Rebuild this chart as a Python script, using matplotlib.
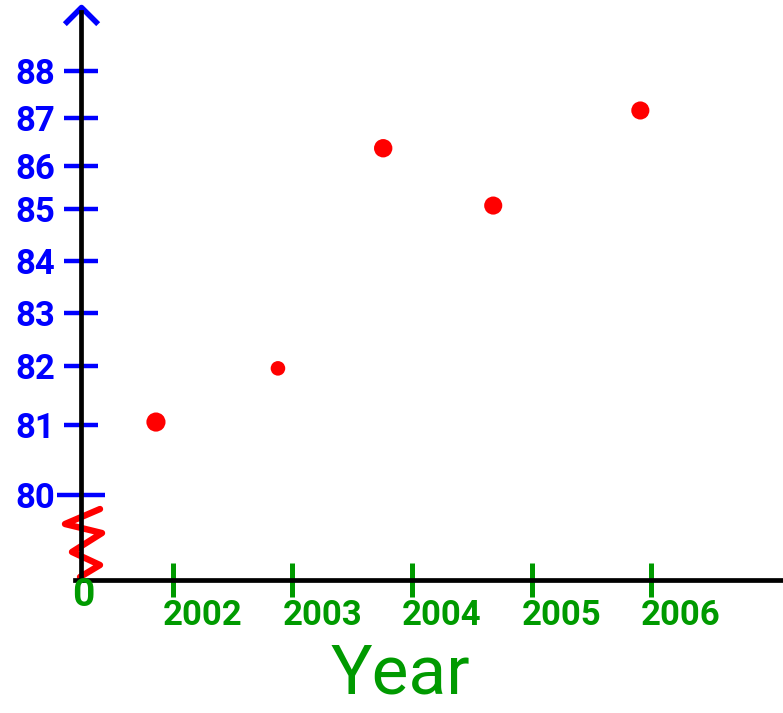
import numpy as np
import matplotlib.pyplot as plt
import matplotlib.transforms as mtransforms

# ---- values ----
years = [2002, 2003, 2004, 2005, 2006]
year_labels = ["2002", "2003", "2004", "2005", "2006"]
y_ticks = [80, 81, 82, 83, 84, 85, 86, 87, 88]
y_labels = ["80", "81", "82", "83", "84", "85", "86", "87", "88"]

# the dots sit a little left of the year ticks in the drawing
point_x = [2001.86, 2002.88, 2003.76, 2004.68, 2005.91]
point_y = [81.05, 81.96, 86.37, 85.08, 87.16]

BLUE = "#0000ff"
GREEN = "#009a00"
RED = "#ff0000"

W, H, DPI = 783, 713, 100

plt.rcParams["font.family"] = ["Roboto", "DejaVu Sans"]
plt.rcParams["font.weight"] = "bold"

# hand drawn y axis: uneven tick spacing plus a break between 0 and 80,
# so map value -> pixel height piecewise (pixel rows measured on the sketch)
scale_vals = [-30, 0, 80, 81, 82, 83, 84, 85, 86, 87, 88, 95]
scale_rows = [730, 580, 495, 425, 366, 313, 261, 209, 166, 118, 71, -258]
scale_h = [H - r for r in scale_rows]


def forward(v):
    return np.interp(v, scale_vals, scale_h)


def inverse(h):
    return np.interp(h, scale_h, scale_vals)


# x axis: roughly 119.6 px per year, 2002 tick at column 172.7
px_per_year = 119.6
x2002_px = 172.7
x_left = 2002 - x2002_px / px_per_year
x_right = 2002 + (W - x2002_px) / px_per_year
x_axis = 2002 - (x2002_px - 80.7) / px_per_year

fig = plt.figure(figsize=(W / DPI, H / DPI), dpi=DPI)
ax = fig.add_axes([0, 0, 1, 1])
ax.set_yscale("function", functions=(forward, inverse))
ax.set_xlim(x_left, x_right)
ax.set_ylim(inverse(0), inverse(H))

# axes lines
for side in ["top", "right"]:
    ax.spines[side].set_visible(False)
ax.spines["left"].set_position(("data", x_axis))
ax.spines["left"].set_bounds(0, 89.25)
ax.spines["bottom"].set_position(("data", 0))
ax.spines["bottom"].set_bounds(x_axis - 0.05, x_right)
for side in ["left", "bottom"]:
    ax.spines[side].set_linewidth(3.4)
    ax.spines[side].set_color("black")

# arrow head on the y axis (open chevron)
ax.plot([x_axis], [89.36], marker=[(-1, -1), (0, 0), (1, -1)], ms=24,
        mfc="none", mec=BLUE, mew=4, clip_on=False)

# ticks
ax.set_yticks(y_ticks, y_labels)
ax.set_xticks(years, year_labels)
ax.tick_params(axis="y", direction="inout", length=25, width=3.2,
               color=BLUE, labelcolor=BLUE, labelsize=25, pad=6)
ax.tick_params(axis="x", direction="inout", length=25, width=3.6,
               color=GREEN, labelcolor=GREEN, labelsize=25, pad=1)
ax.yaxis.get_major_ticks()[0].tick1line.set_markersize(34)

# year labels are written to the right of their ticks
offset = mtransforms.ScaledTranslation(30 / DPI, 0, fig.dpi_scale_trans)
for lab in ax.get_xticklabels():
    lab.set_transform(lab.get_transform() + offset)

# axis break squiggle between 0 and 80
zig_dx_px = [19.3, -15.7, 21.3, -8.7, 19.3, -0.7]
zig_v = [66.8, 52.7, 44.2, 26.4, 14.1, 2.8]
zig_x = []
for d in zig_dx_px:
    zig_x.append(x_axis + d / px_per_year)
ax.plot(zig_x, zig_v, color=RED, lw=4.6,
        solid_capstyle="round", solid_joinstyle="round")

ax.annotate("0", xy=(x_axis, 0), xytext=(3, -16), textcoords="offset pixels",
            ha="center", va="center", color=GREEN, fontsize=28)

# data points
dot_sizes = [190, 110, 175, 170, 170]
ax.scatter(point_x, point_y, s=dot_sizes, color=RED, zorder=3,
           edgecolors="none")

ax.set_xlabel("Year", fontsize=50, color=GREEN, fontweight="normal")
ax.xaxis.set_label_coords(400 / W, (H - 675) / H)
ax.xaxis.label.set_va("center")

fig.savefig("out.png", dpi=DPI)
